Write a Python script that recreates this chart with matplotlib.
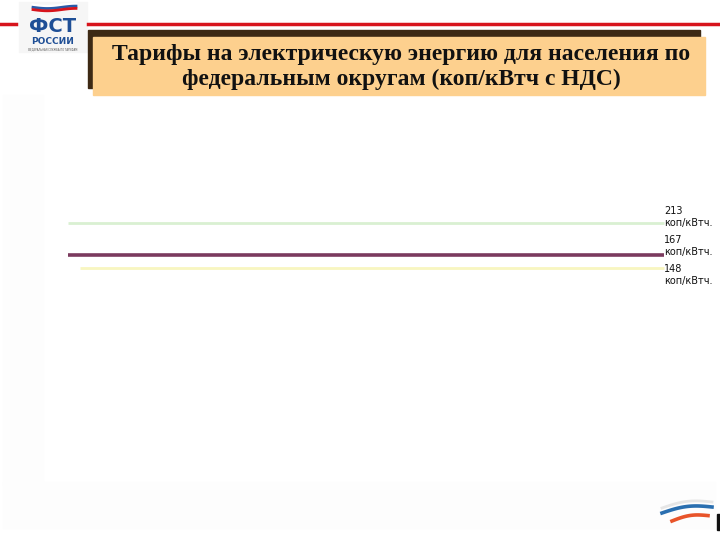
import numpy as np
import matplotlib
matplotlib.use("Agg")
import matplotlib.pyplot as plt
from matplotlib.patches import Rectangle

# Тарифы (коп/кВтч с НДС)
tariffs = [213, 167, 148]
tariff_labels = ["213\nкоп/кВтч.", "167\nкоп/кВтч.", "148\nкоп/кВтч."]
line_colors = ["#d9f0d2", "#7b3a5e", "#f8f6c0"]
line_widths = [2.0, 2.6, 2.0]
line_starts = [68, 68, 80]
label_shift = [4, 6, -5.5]  # сдвиг подписи, пт

title = "Тарифы на электрическую энергию для населения по\nфедеральным округам (коп/кВтч с НДС)"

fig = plt.figure(figsize=(7.2, 5.4), dpi=100)

# фон слайда в пикселях
bg = fig.add_axes([0, 0, 1, 1])
bg.set_xlim(0, 720)
bg.set_ylim(540, 0)
bg.axis("off")

# бледная подложка
bg.add_patch(Rectangle((3, 95), 40, 390, color="#fdfdfd", zorder=0))
bg.add_patch(Rectangle((3, 482), 712, 46, color="#fdfdfd", zorder=0))

# красная линия сверху
bg.plot([0, 16], [24, 24], color="#d7141c", lw=2.5)
bg.plot([88, 720], [24, 24], color="#d7141c", lw=2.5)

# логотип ФСТ
bg.add_patch(Rectangle((19, 2), 68, 50, color="#f6f6f6", zorder=1))
xs = np.linspace(33, 76, 30)
for k, c in enumerate(["#ffffff", "#2a5aa8", "#d7141c"]):
    bg.plot(xs, 5 + k * 2.3 + 1.2 * np.sin((xs - 33) / 43 * np.pi * 1.5), color=c, lw=2.0, zorder=2)
bg.text(53, 26, "ФСТ", fontsize=14, fontweight="bold", color="#1f4f96",
        ha="center", va="center", family="DejaVu Sans", zorder=3)
bg.text(53, 42, "РОССИИ", fontsize=6.5, fontweight="bold", color="#1f4f96",
        ha="center", va="center", family="DejaVu Sans", zorder=3)
bg.text(53, 49.5, "ФЕДЕРАЛЬНАЯ СЛУЖБА ПО ТАРИФАМ", fontsize=1.8, color="#555555",
        ha="center", va="center", zorder=3)

# плашка заголовка
bg.add_patch(Rectangle((88, 30), 612, 58, color="#3d2914", zorder=1))
bg.add_patch(Rectangle((93, 37), 612, 58, color="#fdd08e", zorder=2))
bg.text(401, 67, title, fontsize=17, fontweight="bold", color="#111111",
        ha="center", va="center", family="Liberation Serif", linespacing=1.25, zorder=3)

# логотип в правом нижнем углу
xs2 = np.linspace(662, 712, 40)
bg.plot(xs2, 508 - 6 * np.sin((xs2 - 662) / 50 * np.pi) * 0.6 + (xs2 - 662) * -0.12,
        color="#e6e6e6", lw=2, zorder=2)
bg.plot(xs2, 513 - 5 * np.sin((xs2 - 662) / 50 * np.pi) * 0.7 + (xs2 - 662) * -0.12,
        color="#2a6fb0", lw=2.6, zorder=2)
xs3 = np.linspace(672, 708, 30)
bg.plot(xs3, 521 - 4 * np.sin((xs3 - 672) / 36 * np.pi) * 0.7 + (xs3 - 672) * -0.15,
        color="#e8542a", lw=2.6, zorder=2)
bg.add_patch(Rectangle((717, 514), 3, 16, color="#111111", zorder=2))

# график с линиями тарифов
ax = fig.add_axes([0, 0, 1, 1], facecolor="none")
ax.set_xlim(0, 720)
# y-масштаб подобран так, чтобы линии легли как на слайде
ax.set_ylim(176 - (540 - 248.5) / 0.6893, 176 + 248.5 / 0.6893)
ax.axis("off")

for v, lab, c, lw, x0, dy in zip(tariffs, tariff_labels, line_colors, line_widths,
                                 line_starts, label_shift):
    ax.hlines(v, x0, 664, color=c, lw=lw)
    ax.annotate(lab, (664, v), xytext=(0, dy), textcoords="offset points",
                fontsize=7, family="DejaVu Sans", color="#111111",
                ha="left", va="center", linespacing=1.25)

fig.savefig("out.png", dpi=100)
